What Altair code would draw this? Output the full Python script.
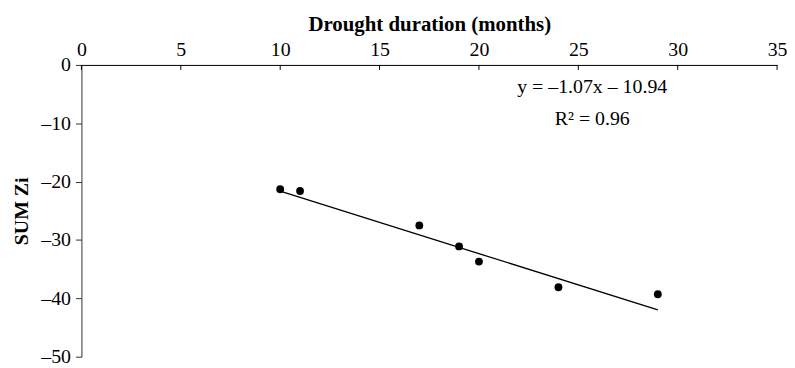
import altair as alt
import pandas as pd

# Data
duration = [10, 11, 17, 19, 20, 24, 29]
sum_zi = [-21.3, -21.6, -27.5, -31.1, -33.7, -38.1, -39.3]

trend_x = [10, 29]
trend_y = [-21.64, -41.97]

x_ticks = [0, 5, 10, 15, 20, 25, 30, 35]
y_ticks = [0, -10, -20, -30, -40, -50]

eq_text = ["y = –1.07x – 10.94", "R² = 0.96"]
eq_x = [25.7, 25.7]
eq_y = [-3.8, -9.2]

FONT = "Liberation Serif"

pts = pd.DataFrame({"d": duration, "z": sum_zi})
trend = pd.DataFrame({"d": trend_x, "z": trend_y})
ticks = pd.DataFrame({"d": x_ticks})
labels = pd.DataFrame({"d": eq_x, "z": eq_y, "t": eq_text})

xscale = alt.Scale(domain=[0, 35], nice=False, zero=False)
yscale = alt.Scale(domain=[-50, 0], nice=False, zero=False)

xaxis = alt.Axis(
    orient="top", values=x_ticks, ticks=False, labelPadding=6,
    title="Drought duration (months)", titleFont=FONT, titleFontWeight="bold",
    titleFontSize=21, titlePadding=5, labelFont=FONT, labelFontSize=20,
    labelColor="black", titleColor="black", domainColor="black", grid=False,
    labelFlush=False,
)
yaxis = alt.Axis(
    values=y_ticks, tickSize=6, labelPadding=5,
    labelExpr="datum.value < 0 ? '–' + abs(datum.value) : datum.label",
    title="SUM Zi", titleFont=FONT, titleFontWeight="bold", titleFontSize=20,
    titlePadding=9, labelFont=FONT, labelFontSize=20, labelColor="black",
    titleColor="black", domainColor="#333333", tickColor="#333333", grid=False,
)

points = alt.Chart(pts).mark_circle(size=62, color="black", opacity=1).encode(
    x=alt.X("d:Q", scale=xscale, axis=xaxis),
    y=alt.Y("z:Q", scale=yscale, axis=yaxis),
)

line = alt.Chart(trend).mark_line(color="black", strokeWidth=1.3).encode(
    x=alt.X("d:Q", scale=xscale),
    y=alt.Y("z:Q", scale=yscale),
)

tickmarks = alt.Chart(ticks).mark_rule(color="black", strokeWidth=1).encode(
    x=alt.X("d:Q", scale=xscale),
    y=alt.value(0),
    y2=alt.value(5),
)

text = alt.Chart(labels).mark_text(font=FONT, fontSize=20, color="black").encode(
    x=alt.X("d:Q", scale=xscale),
    y=alt.Y("z:Q", scale=yscale),
    text="t:N",
)

chart = alt.layer(line, points, tickmarks, text).properties(
    width=701, height=294,
    autosize=alt.AutoSizeParams(type="none"),
    padding={"left": 74, "top": 56, "right": 10, "bottom": 8},
).configure_view(stroke=None)

chart.save("out.html", embed_options={"renderer": "svg", "actions": False})
